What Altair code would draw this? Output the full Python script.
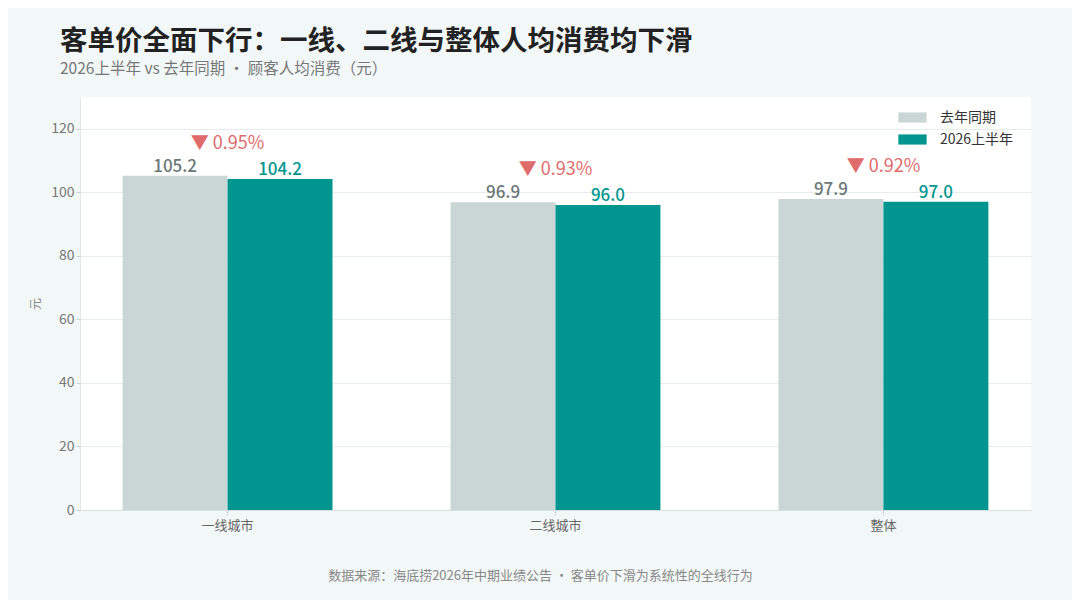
import altair as alt
import pandas as pd

categories = ["一线城市", "二线城市", "整体"]
series_names = ["去年同期", "2026上半年"]
last_year = [105.2, 96.9, 97.9]
this_year = [104.2, 96.0, 97.0]
change_labels = ["▼ 0.95%", "▼ 0.93%", "▼ 0.92%"]
y_ticks = [0, 20, 40, 60, 80, 100, 120]

rows = []
for c, a, b in zip(categories, last_year, this_year):
    rows.append({"城市": c, "系列": series_names[0], "值": a, "标签": f"{a:.1f}"})
    rows.append({"城市": c, "系列": series_names[1], "值": b, "标签": f"{b:.1f}"})
df = pd.DataFrame(rows)

top_df = pd.DataFrame({
    "城市": categories,
    "顶": [max(a, b) for a, b in zip(last_year, this_year)],
    "变化": change_labels,
})

FONT = "Noto Sans CJK SC"
GREY = "#cad6d6"
TEAL = "#00968f"

xscale = alt.Scale(domain=categories, paddingInner=0.36, paddingOuter=0.13)
yscale = alt.Scale(domain=[0, 130])

x_enc = alt.X(
    "城市:N", scale=xscale, sort=categories,
    axis=alt.Axis(
        title="数据来源：海底捞2026年中期业绩公告 · 客单价下滑为系统性的全线行为",
        titleX=460, titleY=69, titleAlign="center", titleBaseline="alphabetic",
        titleFontSize=13, titleFontWeight="normal", titleColor="#888888", titleFont=FONT,
        labelAngle=0, labelColor="#666666", labelFontSize=13, labelFont=FONT, labelPadding=4,
        domainColor="#d5dfdf", tickColor="#c8d3d3", tickSize=5,
    ),
)

bars = alt.Chart(df).mark_bar().encode(
    x=x_enc,
    xOffset=alt.XOffset("系列:N", sort=series_names, scale=alt.Scale(domain=series_names)),
    y=alt.Y(
        "值:Q", scale=yscale,
        axis=alt.Axis(
            title="元", values=y_ticks, titleFontSize=12, titleFontWeight="normal",
            titleColor="#888888", titleFont=FONT, titlePadding=8,
            labelColor="#777777", labelFontSize=14, labelFont=FONT,
            gridColor="#e7eded", domainColor="#dfe7e7", tickColor="#c8d3d3", tickSize=4,
        ),
    ),
    color=alt.Color(
        "系列:N",
        scale=alt.Scale(domain=series_names, range=[GREY, TEAL]),
        legend=alt.Legend(
            title=None, orient="none", legendX=818, legendY=6,
            symbolType="M-1,-0.36L1,-0.36L1,0.36L-1,0.36Z", symbolSize=800,
            symbolStrokeWidth=0, labelFontSize=14, labelColor="#333333", labelFont=FONT,
            rowPadding=0, labelOffset=13, padding=0,
        ),
    ),
)

value_labels = alt.Chart(df).mark_text(
    baseline="alphabetic", dy=-4, fontSize=17, font=FONT, fontWeight=500,
).encode(
    x=alt.X("城市:N", scale=xscale, sort=categories),
    xOffset=alt.XOffset("系列:N", sort=series_names, scale=alt.Scale(domain=series_names)),
    y=alt.Y("值:Q", scale=yscale),
    text="标签:N",
    color=alt.condition(alt.datum["系列"] == series_names[0], alt.value("#6b7777"), alt.value(TEAL)),
)

change_text = alt.Chart(top_df).mark_text(
    baseline="alphabetic", dy=-27, fontSize=18, font=FONT, color="#e06b6b",
).encode(
    x=alt.X("城市:N", scale=xscale, sort=categories),
    y=alt.Y("顶:Q", scale=yscale),
    text="变化:N",
)

chart = alt.layer(bars, value_labels, change_text).properties(
    width=951,
    height=413,
    background="#f2f7f7",
    autosize=alt.AutoSizeParams(type="none"),
    padding={"left": 72, "top": 89, "right": 41, "bottom": 90},
    title=alt.TitleParams(
        text="客单价全面下行：一线、二线与整体人均消费均下滑",
        subtitle="2026上半年 vs 去年同期 · 顾客人均消费（元）",
        anchor="start", frame="group", dx=-20, offset=20,
        font=FONT, fontSize=27.5, fontWeight="bold", color="#222222",
        subtitleFont=FONT, subtitleFontSize=15.5, subtitleColor="#777777", subtitlePadding=6,
    ),
).configure_view(fill="white", stroke=None).configure_axisX(grid=False)

chart.save("out.html", embed_options={"renderer": "svg", "actions": False})
